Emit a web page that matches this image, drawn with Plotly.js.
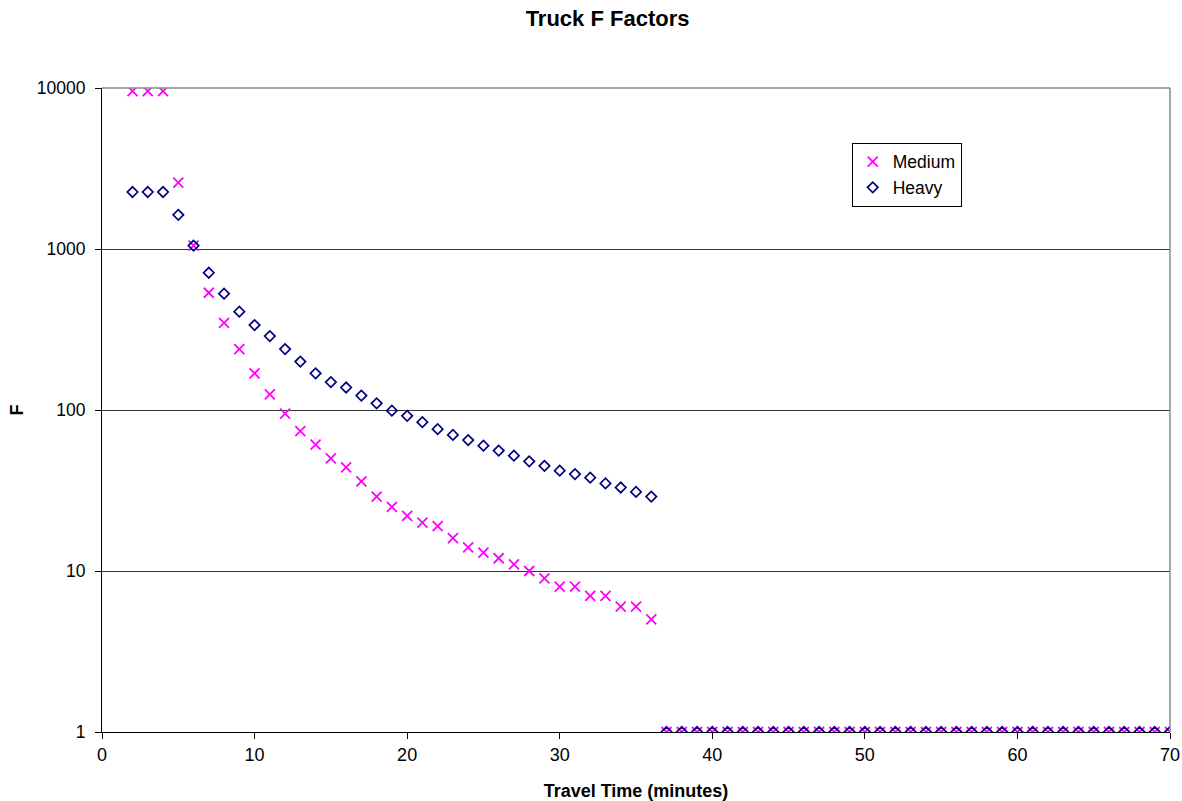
<!DOCTYPE html>
<html>
<head>
<meta charset="utf-8">
<script src="https://cdn.plot.ly/plotly-3.0.1.min.js"></script>
<style>html,body{margin:0;padding:0;background:#fff;}#chart{width:1182px;height:801px;}</style>
</head>
<body>
<div id="chart"></div>
<script>
const travelTime = [];
for (let t = 2; t <= 70; t++) travelTime.push(t);

const mediumF = [9550, 9550, 9550, 2580, 1050, 535, 348, 239, 169, 125, 95, 74, 61, 50, 44, 36, 29, 25, 22, 20, 19, 16, 14, 13, 12, 11, 10, 9, 8, 8, 7, 7, 6, 6, 5,
  1, 1, 1, 1, 1, 1, 1, 1, 1, 1, 1, 1, 1, 1, 1, 1, 1, 1, 1, 1, 1, 1, 1, 1, 1, 1, 1, 1, 1, 1, 1, 1, 1, 1];
const heavyF = [2260, 2260, 2260, 1630, 1050, 712, 528, 408, 337, 288, 239, 200, 169, 149, 138, 123, 110, 99, 92, 84, 76, 70, 65, 60, 56, 52, 48, 45, 42, 40, 38, 35, 33, 31, 29,
  1, 1, 1, 1, 1, 1, 1, 1, 1, 1, 1, 1, 1, 1, 1, 1, 1, 1, 1, 1, 1, 1, 1, 1, 1, 1, 1, 1, 1, 1, 1, 1, 1, 1];
const seriesNames = ["Medium", "Heavy"];
const yTicks = [1, 10, 100, 1000, 10000];
const yTickLabels = ["1", "10", "100", "1000", "10000"];

const font = "Liberation Sans, Arial, sans-serif";

const data = [
  {
    x: travelTime, y: mediumF, name: seriesNames[0], type: "scatter", mode: "markers",
    marker: {symbol: "x-thin-open", size: 10, color: "#FF00FF", line: {color: "#FF00FF", width: 1.8}}
  },
  {
    x: travelTime, y: heavyF, name: seriesNames[1], type: "scatter", mode: "markers",
    marker: {symbol: "diamond-open", size: 8, color: "#000080", line: {color: "#000080", width: 1.7}}
  }
];

const layout = {
  width: 1182, height: 801,
  margin: {l: 102, r: 12, t: 88, b: 69},
  paper_bgcolor: "#fff", plot_bgcolor: "#fff",
  font: {family: font, size: 18, color: "#000"},
  title: {text: "<b>Truck F Factors</b>", font: {family: font, size: 22, color: "#000"}, x: 0.514, xanchor: "center", y: 0.977, yanchor: "middle"},
  showlegend: true,
  legend: {
    x: 0.702, y: 0.915, xanchor: "left", yanchor: "top",
    bordercolor: "#000", borderwidth: 1, bgcolor: "#fff",
    font: {family: font, size: 17.5, color: "#000"},
    itemwidth: 30, tracegroupgap: 0
  },
  xaxis: {
    range: [0, 70], dtick: 10, tick0: 0,
    showgrid: false, zeroline: false,
    showline: true, linecolor: "#000", linewidth: 1,
    ticks: "outside", ticklen: 6, tickcolor: "#000",
    tickfont: {family: font, size: 18, color: "#000"},
    title: {text: "<b>Travel Time (minutes)</b>", font: {family: font, size: 18, color: "#000"}, standoff: 20}
  },
  yaxis: {
    type: "log", range: [0, 4],
    tickvals: yTicks, ticktext: yTickLabels,
    showgrid: true, gridcolor: "#333", gridwidth: 1,
    zeroline: false,
    showline: true, linecolor: "#000", linewidth: 1,
    ticks: "outside", ticklen: 6, tickcolor: "#000",
    ticklabelstandoff: 6,
    tickfont: {family: font, size: 17.5, color: "#000"},
    title: {text: "<b>F</b>", font: {family: font, size: 18, color: "#000"}, standoff: 8}
  },
  shapes: [
    {type: "line", xref: "paper", yref: "paper", x0: 0, x1: 1, y0: 1, y1: 1, line: {color: "#888", width: 1.5}},
    {type: "line", xref: "paper", yref: "paper", x0: 1, x1: 1, y0: 0, y1: 1, line: {color: "#888", width: 1.5}}
  ]
};

Plotly.newPlot("chart", data, layout, {displayModeBar: false, staticPlot: true});
</script>
</body>
</html>
